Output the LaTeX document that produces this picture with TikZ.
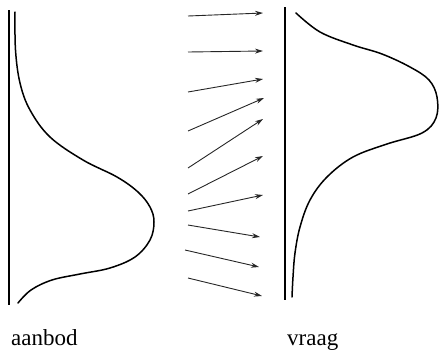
\documentclass[tikz,border=0pt]{standalone}
\usepackage{fontspec}
\setmainfont{Liberation Serif}
\usetikzlibrary{arrows.meta}
\begin{document}
\begin{tikzpicture}[x=1pt,y=-1pt,
  axis/.style={line width=1.5pt,black},
  curve/.style={line width=1.5pt,black,line cap=round},
  flow/.style={line width=0.9pt,black!85,-{Stealth[length=8pt,width=5pt]}},
  lbl/.style={font=\fontsize{23}{26}\selectfont,anchor=base west,inner sep=0pt}]
\useasboundingbox (0,0) rectangle (439,351);
% axes
\coordinate (la) at (9,10);
\coordinate (lb) at (9,305);
\coordinate (ra) at (285,7);
\coordinate (rb) at (285,300);
\draw[axis] (la) -- (lb);
\draw[axis] (ra) -- (rb);
% supply curve (left)
\draw[curve] plot[smooth,tension=0.6] coordinates {(15,12) (15.5,50) (20,83) (30,110) (50,137) (83,160) (117,177) (138,192) (150,207) (154,222) (150,240) (135,257) (110,268) (80,274) (52,280) (31,290) (18,303)};
% demand curve (right)
\draw[curve] plot[smooth,tension=0.6] coordinates {(296,13) (320,32) (353,45) (382,54) (410,67) (429,80) (437,97) (436,118) (422,133) (387,144) (353,157) (327,177) (310,200) (300,227) (295,253) (293,277) (292,297)};
% arrows
\foreach \i/\xa/\ya/\xb/\yb in {1/188/16/263/13, 2/188/52/263/51, 3/188/92/263/79, 4/188/131/264/98, 5/188/168/263/119, 6/188/194/263/156, 7/188/211/263/195, 8/188/225/260/237, 9/185/250/259/267, 10/188/278/262/296}{
  \coordinate (s\i) at (\xa,\ya);
  \coordinate (t\i) at (\xb,\yb);
  \draw[flow] (s\i) -- (t\i);
}
% labels
\node[lbl] (aanbod) at (11,345) {aanbod};
\node[lbl] (vraag) at (287,345) {vraag};
\end{tikzpicture}
\end{document}
